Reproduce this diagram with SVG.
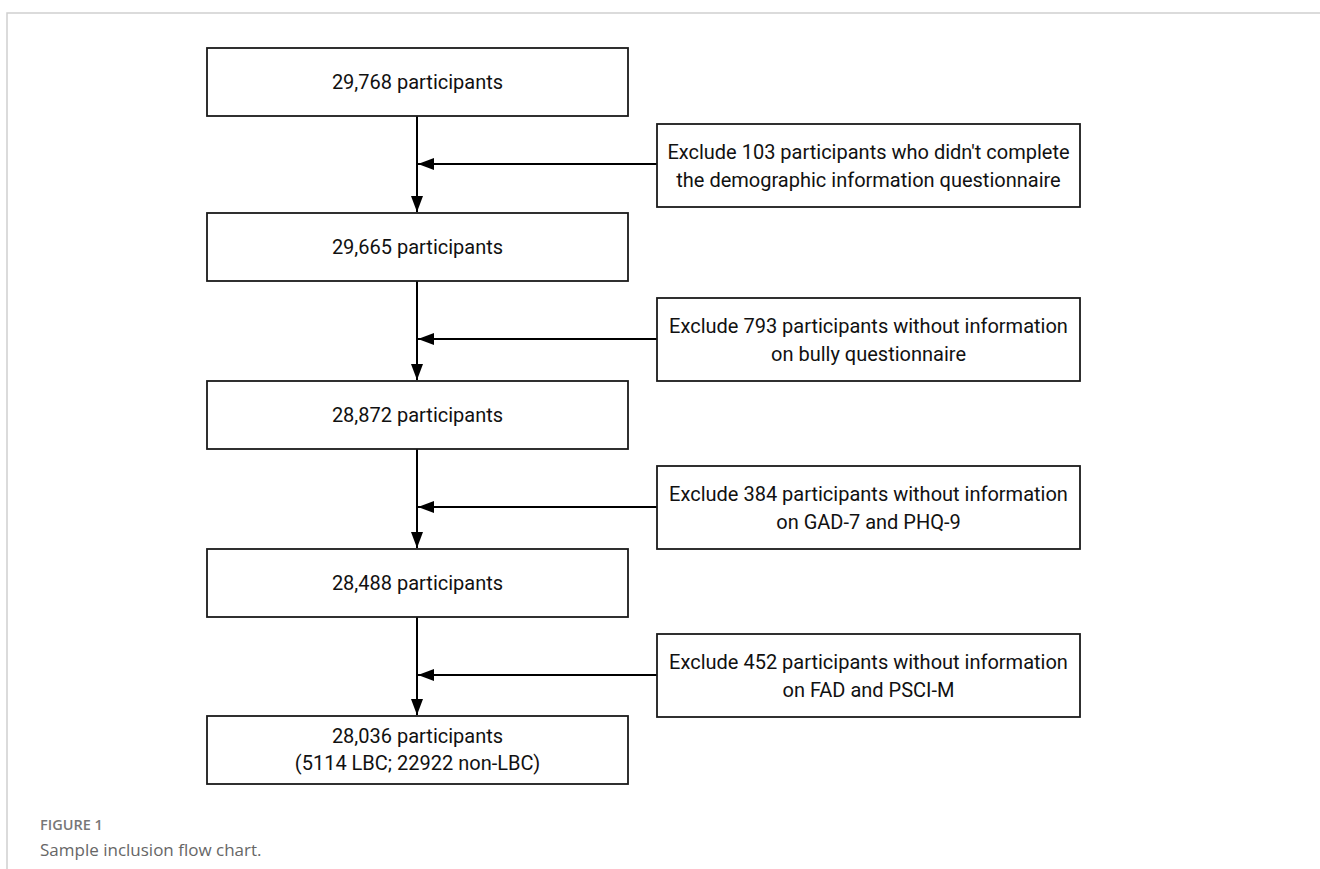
<svg xmlns="http://www.w3.org/2000/svg" width="1320" height="869" viewBox="0 0 1320 869">
<defs>
<style>
.box{fill:#fff;stroke:#1a1a1a;stroke-width:1.8}
.t{font-family:Roboto,"Open Sans","Noto Sans",sans-serif;font-size:20px;fill:#111;text-anchor:middle}
.ln{stroke:#000;stroke-width:2;fill:none}
.frame{stroke:#d0d0d0;stroke-width:1.5;fill:none}
</style>
<marker id="ah2" viewBox="0 0 16 12" refX="16" refY="6" markerWidth="16" markerHeight="12" markerUnits="userSpaceOnUse" orient="auto">
<path d="M0,0 L16,6 L0,12 z" fill="#000"/>
</marker>
</defs>
<rect width="1320" height="869" fill="#fff"/>
<path class="frame" d="M1320,13 H7 V869"/>

<g id="connectors">
<line class="ln" x1="417" y1="116" x2="417" y2="212" marker-end="url(#ah2)"/>
<line class="ln" x1="417" y1="281" x2="417" y2="380" marker-end="url(#ah2)"/>
<line class="ln" x1="417" y1="449" x2="417" y2="548" marker-end="url(#ah2)"/>
<line class="ln" x1="417" y1="617" x2="417" y2="715" marker-end="url(#ah2)"/>
<line class="ln" x1="657" y1="164" x2="418" y2="164" marker-end="url(#ah2)"/>
<line class="ln" x1="657" y1="339" x2="418" y2="339" marker-end="url(#ah2)"/>
<line class="ln" x1="657" y1="507" x2="418" y2="507" marker-end="url(#ah2)"/>
<line class="ln" x1="657" y1="675" x2="418" y2="675" marker-end="url(#ah2)"/>
</g>

<g id="n1"><rect class="box" x="207" y="48" width="421" height="68"/><text class="t" x="417.5" y="89">29,768 participants</text></g>
<g id="e1"><rect class="box" x="657" y="124" width="423" height="83"/><text class="t" x="868.5" y="159">Exclude 103 participants who didn't complete</text><text class="t" x="868.5" y="187">the demographic information questionnaire</text></g>
<g id="n2"><rect class="box" x="207" y="213" width="421" height="68"/><text class="t" x="417.5" y="254">29,665 participants</text></g>
<g id="e2"><rect class="box" x="657" y="298" width="423" height="83"/><text class="t" x="868.5" y="333">Exclude 793 participants without information</text><text class="t" x="868.5" y="361">on bully questionnaire</text></g>
<g id="n3"><rect class="box" x="207" y="381" width="421" height="68"/><text class="t" x="417.5" y="422">28,872 participants</text></g>
<g id="e3"><rect class="box" x="657" y="466" width="423" height="83"/><text class="t" x="868.5" y="501">Exclude 384 participants without information</text><text class="t" x="868.5" y="529">on GAD-7 and PHQ-9</text></g>
<g id="n4"><rect class="box" x="207" y="549" width="421" height="68"/><text class="t" x="417.5" y="590">28,488 participants</text></g>
<g id="e4"><rect class="box" x="657" y="634" width="423" height="83"/><text class="t" x="868.5" y="669">Exclude 452 participants without information</text><text class="t" x="868.5" y="697">on FAD and PSCI-M</text></g>
<g id="n5"><rect class="box" x="207" y="716" width="421" height="68"/><text class="t" x="417.5" y="743">28,036 participants</text><text class="t" x="417.5" y="770">(5114 LBC; 22922 non-LBC)</text></g>

<g id="caption">
<text x="40" y="830" style="font-family:'Open Sans','Noto Sans',sans-serif;font-size:14.5px;fill:#777;font-weight:600">FIGURE 1</text>
<text x="40" y="856" style="font-family:'Open Sans','Noto Sans',sans-serif;font-size:17px;fill:#666">Sample inclusion flow chart.</text>
</g>
</svg>
